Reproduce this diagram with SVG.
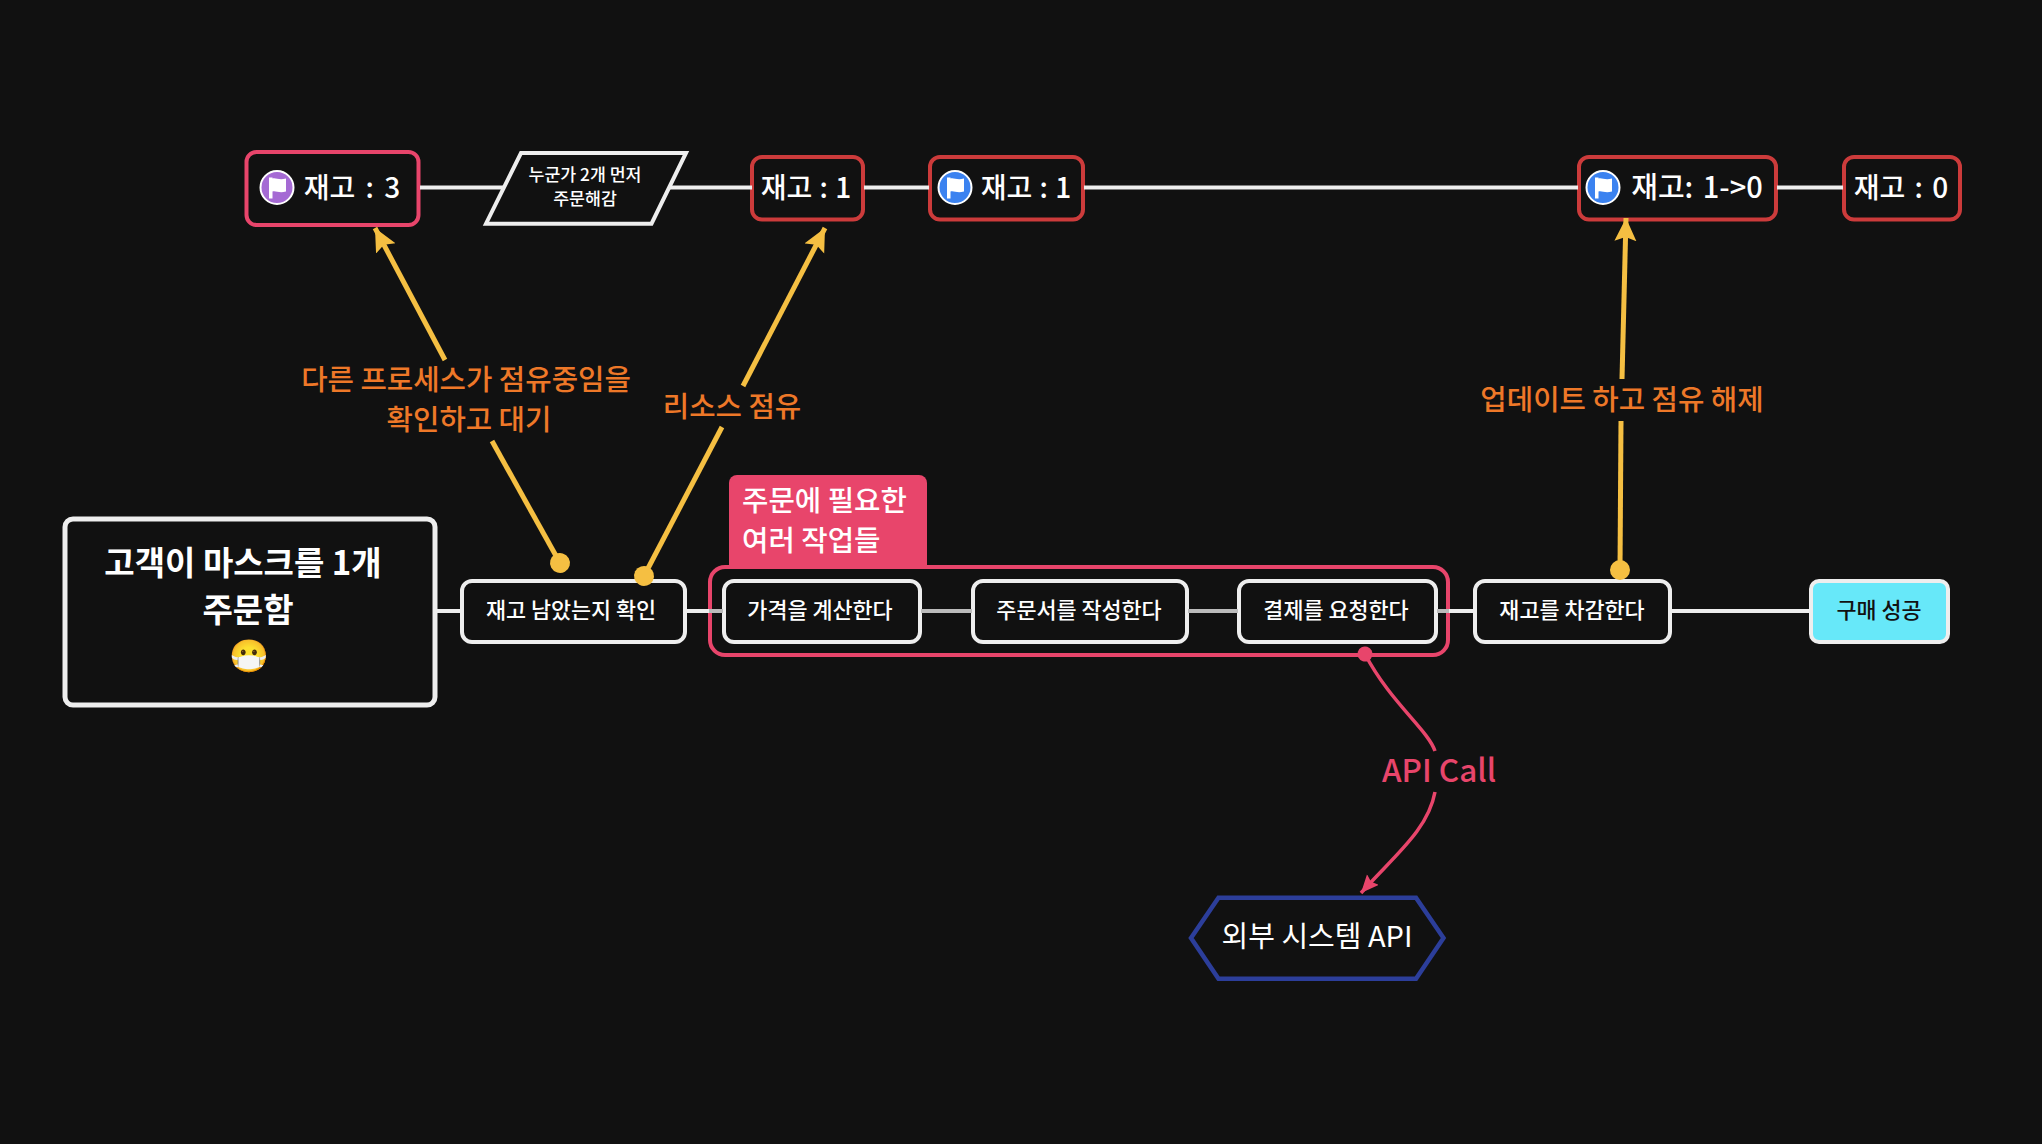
<svg xmlns="http://www.w3.org/2000/svg" width="2042" height="1144" viewBox="0 0 2042 1144">
<style>
text{font-family:"Noto Sans CJK KR","Noto Sans",sans-serif;fill:#fff;text-anchor:middle}
.box{fill:#111;stroke:#eee;stroke-width:4}
.red{fill:#111;stroke:#cc3b3b;stroke-width:4}
.pink{fill:#111;stroke:#e8456b;stroke-width:4}
.t{font-size:21.8px;font-weight:500}
.h{font-size:28px;font-weight:500;word-spacing:3px}
.o{font-size:28.7px;font-weight:500;fill:#ee7828}
.l{stroke:#eee;stroke-width:4;fill:none}
.g{stroke:#bbb;stroke-width:4;fill:none}
.y{stroke:#f5bf42;stroke-width:5;fill:none}
.p{stroke:#e8456b;stroke-width:3.500;fill:none}
.flag{fill:#fff}
</style>
<defs>
<marker id="ay" markerUnits="userSpaceOnUse" markerWidth="26" markerHeight="26" refX="23" refY="11" orient="auto"><path d="M0 0L23 11L0 22L4 11Z" fill="#f5bf42"/></marker>
<marker id="ap" markerUnits="userSpaceOnUse" markerWidth="20" markerHeight="20" refX="18" refY="8" orient="auto"><path d="M0 0L18 8L0 16L3 8Z" fill="#e8456b"/></marker>
<marker id="dy" markerUnits="userSpaceOnUse" markerWidth="22" markerHeight="22" refX="11" refY="11" orient="auto"><circle cx="11" cy="11" r="10" fill="#f5bf42"/></marker>
<marker id="dp" markerUnits="userSpaceOnUse" markerWidth="16" markerHeight="16" refX="8" refY="8" orient="auto"><circle cx="8" cy="8" r="7.500" fill="#e8456b"/></marker>
<g id="flag"><path class="flag" d="M-8 -10H-4.500V-9C-1 -10 2 -7 9 -9V4C2 6 -1 3 -4.500 4V11H-8Z"/></g>
</defs>
<rect width="2042" height="1144" fill="#111"/>
<g id="n-stock3"><rect class="pink" x="246.500" y="152" width="172" height="73" rx="10"/>
<circle cx="277" cy="187.500" r="16.500" fill="#a56ad4" stroke="#fff" stroke-width="2"/><use href="#flag" x="277" y="187.500"/>
<text class="h" x="352" y="198" style="word-spacing:4px">재고 : 3</text></g>
<g id="n-order-first"><path fill="#111" stroke="#eee" stroke-width="4" d="M521 153H686L651.500 223.700H486Z"/>
<text style="font-size:17.300px;font-weight:500" x="585" y="181">누군가 2개 먼저</text>
<text style="font-size:17.300px;font-weight:500" x="585" y="205">주문해감</text></g>
<g id="n-stock1a"><rect class="red" x="752" y="157" width="111" height="62.500" rx="10"/><text class="h" x="806" y="198" style="word-spacing:1px">재고 : 1</text></g>
<g id="n-stock1b"><rect class="red" x="930" y="157" width="153" height="62.500" rx="10"/>
<circle cx="955" cy="187.500" r="16.500" fill="#3b82f0" stroke="#fff" stroke-width="2"/><use href="#flag" x="955" y="187.500"/>
<text class="h" x="1026" y="198" style="word-spacing:1px">재고 : 1</text></g>
<g id="n-stock10"><rect class="red" x="1579" y="157" width="197" height="62.500" rx="10"/>
<circle cx="1603" cy="187.500" r="16.500" fill="#3b82f0" stroke="#fff" stroke-width="2"/><use href="#flag" x="1603" y="187.500"/>
<text class="h" x="1697" y="198" style="font-size:29px">재고: 1-&gt;0</text></g>
<g id="n-stock0"><rect class="red" x="1844" y="157" width="116" height="62.500" rx="10"/><text class="h" x="1901" y="198">재고 : 0</text></g>
<g id="n-customer"><rect class="box" style="stroke-width:5" x="65" y="519" width="370" height="186" rx="8"/>
<text style="font-size:33px;font-weight:700" x="243" y="575">고객이 마스크를 1개</text>
<text style="font-size:33px;font-weight:700" x="248" y="622">주문함</text>
<text style="font-size:32px" x="248.500" y="667">😷</text></g>
<g id="n-check"><rect class="box" x="462" y="581" width="223" height="61" rx="10"/><text class="t" x="571" y="618">재고 남았는지 확인</text></g>
<g id="n-group"><path fill="#e8456b" d="M729 483a8 8 0 0 1 8-8H919a8 8 0 0 1 8 8V566H729Z"/>
<rect x="710" y="567" width="738" height="88" rx="15" fill="none" stroke="#e8456b" stroke-width="4"/>
<text style="font-size:28.700px;font-weight:500;text-anchor:start" x="742" y="511">주문에 필요한</text>
<text style="font-size:28.700px;font-weight:500;text-anchor:start" x="742" y="551">여러 작업들</text></g>
<g id="n-price"><rect class="box" x="724" y="581" width="196" height="61" rx="10"/><text class="t" x="820" y="618">가격을 계산한다</text></g>
<g id="n-form"><rect class="box" x="973" y="581" width="214" height="61" rx="10"/><text class="t" x="1079" y="618">주문서를 작성한다</text></g>
<g id="n-pay"><rect class="box" x="1239" y="581" width="197" height="61" rx="10"/><text class="t" x="1336" y="618">결제를 요청한다</text></g>
<g id="n-deduct"><rect class="box" x="1475" y="581" width="195" height="61" rx="10"/><text class="t" x="1572" y="618">재고를 차감한다</text></g>
<g id="n-success"><rect x="1811" y="581" width="137" height="61" rx="8" fill="#67e8f9" stroke="#eee" stroke-width="4"/><text class="t" x="1879" y="618" style="fill:#111">구매 성공</text></g>
<g id="n-external"><path fill="#111" stroke="#2c3e9a" stroke-width="4.500" d="M1191 938L1218.500 897.700H1416L1443.500 938L1416 978.700H1218.500Z"/><text style="font-size:29px;font-weight:400" x="1317" y="947">외부 시스템 API</text></g>
<g id="connectors">
<path class="l" d="M420 187.500H505M668 187.500H752M864 187.500H929M1084 187.500H1578M1777 187.500H1843"/>
<path class="l" d="M436 611H461M686 611H709"/>
<path class="g" d="M709 611H723M921 611H972M1188 611H1238M1437 611H1449"/>
<path class="l" d="M1449 611H1474M1671 611H1810"/>
<path class="y" marker-start="url(#dy)" d="M560 563L492 441"/>
<path class="y" marker-end="url(#ay)" d="M445 360L375 228"/>
<path class="y" marker-start="url(#dy)" d="M644 576L722 427"/>
<path class="y" marker-end="url(#ay)" d="M743 386L825 228"/>
<path class="y" marker-start="url(#dy)" d="M1620 570L1621 421"/>
<path class="y" marker-end="url(#ay)" d="M1622 379L1626 218"/>
<path class="p" marker-start="url(#dp)" d="M1365 654C1390 702 1428 730 1435 751"/>
<path class="p" marker-end="url(#ap)" d="M1435 792C1428 830 1395 855 1361 893"/>
</g>
<g id="labels">
<text class="o" x="466" y="390">다른 프로세스가 점유중임을</text>
<text class="o" x="469" y="430">확인하고 대기</text>
<text class="o" x="732" y="417">리소스 점유</text>
<text class="o" x="1622" y="410">업데이트 하고 점유 해제</text>
<text style="font-size:31.500px;font-weight:500;fill:#e8456b" x="1439" y="782">API Call</text>
</g>
</svg>
